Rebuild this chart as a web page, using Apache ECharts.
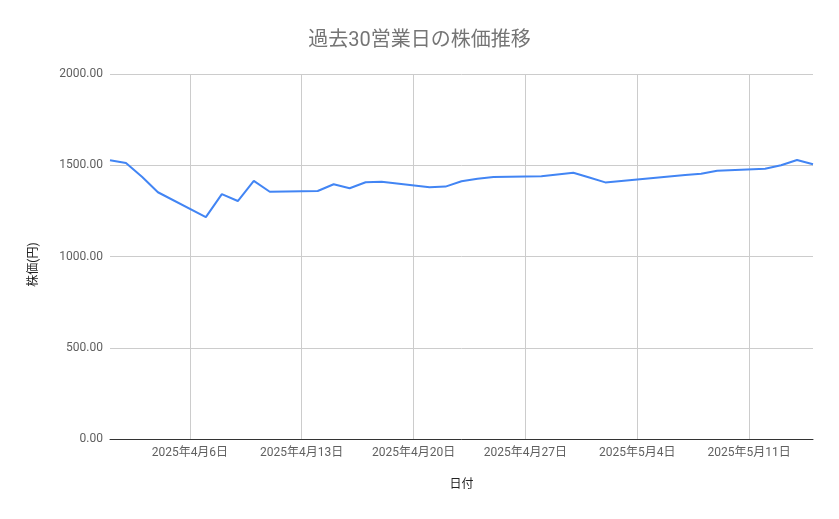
<!DOCTYPE html>
<html><head><meta charset="utf-8">
<script src="https://cdn.jsdelivr.net/npm/echarts@6/dist/echarts.min.js"></script>
<style>html,body{margin:0;padding:0;background:#fff}#c{width:839px;height:519px}</style>
</head><body><div id="c"></div>
<script>
const titleText = '過去30営業日の株価推移';
const xName = '日付';
const yName = '株価(円)';
const dates = ['2025-04-01','2025-04-02','2025-04-03','2025-04-04',
  '2025-04-07','2025-04-08','2025-04-09','2025-04-10','2025-04-11',
  '2025-04-14','2025-04-15','2025-04-16','2025-04-17','2025-04-18',
  '2025-04-21','2025-04-22','2025-04-23','2025-04-24','2025-04-25',
  '2025-04-28','2025-04-30','2025-05-01','2025-05-02',
  '2025-05-07','2025-05-08','2025-05-09',
  '2025-05-12','2025-05-13','2025-05-14','2025-05-15'];
const prices = [1527,1512,1437,1352,
  1216,1342,1304,1414,1355,
  1359,1396,1374,1407,1410,
  1379,1383,1412,1426,1435,
  1440,1459,1433,1406,
  1446,1453,1470,
  1481,1500,1529,1505];
const weekTicks = ['2025-04-06','2025-04-13','2025-04-20','2025-04-27','2025-05-04','2025-05-11'];
const xRange = ['2025-04-01','2025-05-15'];
const yTicks = [0,500,1000,1500,2000];

function ts(s){const p=s.split('-').map(Number);return new Date(p[0],p[1]-1,p[2]).getTime();}
const FONT = 'Roboto, "Noto Sans CJK JP", sans-serif';
const chart = echarts.init(document.getElementById('c'));
chart.setOption({
  animation:false,
  backgroundColor:'#fff',
  textStyle:{fontFamily:FONT},
  title:{text:titleText,left:'center',top:26,textStyle:{fontSize:20,fontWeight:'normal',color:'#757575',fontFamily:FONT}},
  grid:{left:110,right:26,top:74,bottom:80},
  xAxis:{
    type:'time',min:ts(xRange[0]),max:ts(xRange[1]),
    name:xName,nameLocation:'middle',nameGap:40,
    nameTextStyle:{color:'#222',fontSize:12,fontFamily:FONT},
    axisLine:{show:true,lineStyle:{color:'#333',width:1}},
    axisTick:{show:false,customValues:weekTicks.map(ts)},
    axisLabel:{customValues:weekTicks.map(ts),formatter:'{yyyy}年{M}月{d}日',color:'#5f5f5f',fontSize:12,margin:8,fontFamily:FONT,hideOverlap:false},
    splitLine:{show:true,lineStyle:{color:'#cccccc',width:1}}
  },
  yAxis:{
    type:'value',min:yTicks[0],max:yTicks[yTicks.length-1],interval:500,
    name:yName,nameLocation:'middle',nameGap:70,nameRotate:90,
    nameTextStyle:{color:'#222',fontSize:12,fontFamily:FONT,padding:[0,16,0,0]},
    axisLine:{show:false},axisTick:{show:false},
    axisLabel:{formatter:v=>v.toFixed(2),color:'#5f5f5f',fontSize:12,margin:7,fontFamily:FONT},
    splitLine:{show:true,lineStyle:{color:'#cccccc',width:1}}
  },
  series:[{
    type:'line',showSymbol:false,smooth:false,
    lineStyle:{color:'#4285F4',width:2},itemStyle:{color:'#4285F4'},
    data:dates.map((d,i)=>[ts(d),prices[i]])
  }]
});
</script></body></html>
